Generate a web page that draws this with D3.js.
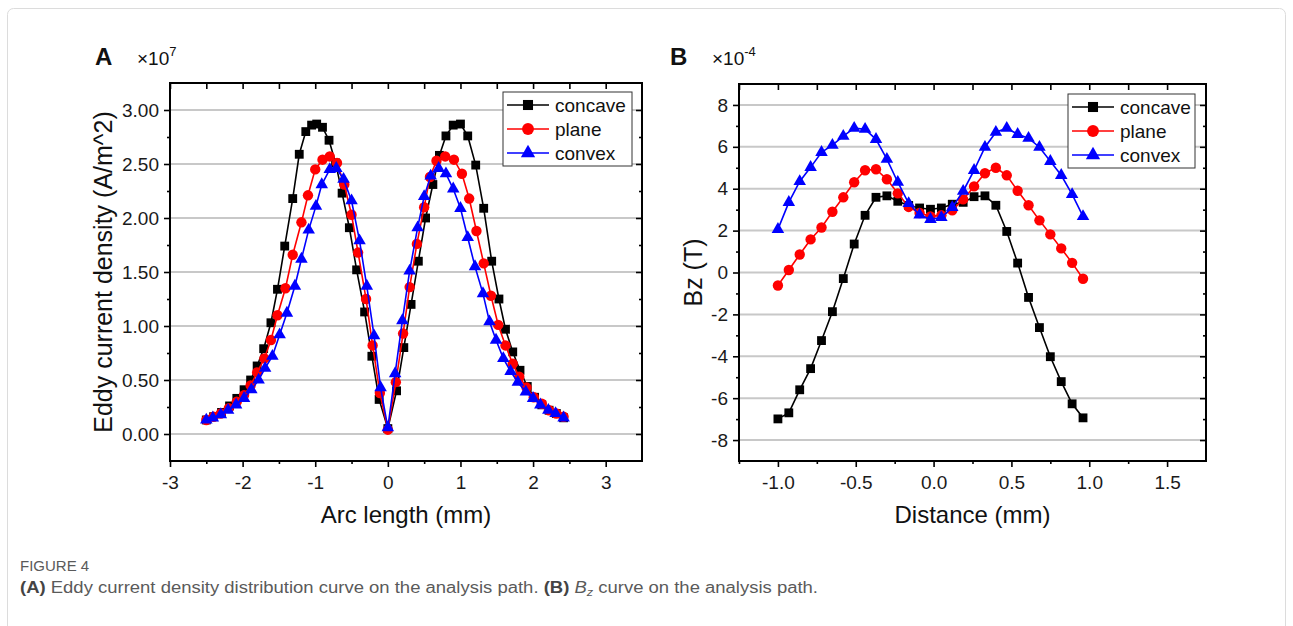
<!DOCTYPE html>
<html><head><meta charset="utf-8">
<script src="https://cdn.jsdelivr.net/npm/d3@7"></script>
<style>
body{margin:0;background:#fff;}
svg{display:block;font-family:"Liberation Sans",Arial,Helvetica,sans-serif;}
</style></head><body>
<svg id="c" width="1293" height="626"></svg>
<script>
// ---------- Panel A data: eddy current density (x1e7 A/m^2) vs arc length (mm)
const seriesNames = ["concave", "plane", "convex"];
const seriesColors = ["#000000", "#ff0000", "#0000ff"];

const arcConcave = [-2.50,-2.40,-2.29,-2.18,-2.08,-1.98,-1.89,-1.80,-1.71,-1.61,-1.52,-1.42,-1.31,-1.22,-1.13,-1.05,-0.98,-0.90,-0.81,-0.72,-0.63,-0.53,-0.43,-0.32,-0.22,-0.12,0.00,0.12,0.22,0.32,0.42,0.52,0.62,0.71,0.80,0.90,1.00,1.10,1.21,1.32,1.43,1.53,1.62,1.72,1.82,1.92,2.02,2.12,2.22,2.32,2.42];
const jConcave   = [0.13,0.16,0.20,0.26,0.33,0.41,0.50,0.63,0.79,1.03,1.34,1.74,2.18,2.59,2.80,2.86,2.87,2.84,2.72,2.51,2.23,1.91,1.52,1.13,0.72,0.32,0.05,0.40,0.80,1.20,1.60,2.00,2.31,2.58,2.76,2.86,2.87,2.76,2.49,2.09,1.60,1.25,0.97,0.76,0.59,0.44,0.34,0.27,0.22,0.19,0.15];

const arcPlane = [-2.50,-2.40,-2.30,-2.19,-2.08,-1.98,-1.89,-1.80,-1.70,-1.61,-1.52,-1.41,-1.31,-1.19,-1.10,-1.00,-0.90,-0.80,-0.70,-0.60,-0.50,-0.41,-0.30,-0.21,-0.11,0.00,0.11,0.21,0.30,0.40,0.50,0.58,0.67,0.79,0.91,1.02,1.12,1.22,1.32,1.42,1.52,1.62,1.72,1.81,1.91,2.01,2.12,2.22,2.32,2.42];
const jPlane   = [0.13,0.16,0.19,0.24,0.30,0.36,0.45,0.57,0.70,0.87,1.10,1.35,1.66,1.96,2.21,2.45,2.54,2.57,2.51,2.31,2.03,1.68,1.25,0.82,0.38,0.04,0.48,0.93,1.36,1.76,2.10,2.38,2.53,2.57,2.54,2.41,2.18,1.88,1.58,1.28,1.01,0.82,0.65,0.53,0.43,0.34,0.28,0.22,0.19,0.16];

const arcConvex = [-2.50,-2.41,-2.30,-2.20,-2.09,-1.98,-1.88,-1.78,-1.69,-1.59,-1.49,-1.39,-1.28,-1.19,-1.09,-0.99,-0.91,-0.80,-0.71,-0.61,-0.50,-0.39,-0.29,-0.19,-0.10,0.00,0.10,0.20,0.30,0.41,0.50,0.59,0.70,0.80,0.90,1.00,1.10,1.20,1.31,1.40,1.49,1.59,1.69,1.79,1.90,2.00,2.10,2.21,2.31,2.42];
const jConvex   = [0.13,0.15,0.18,0.22,0.27,0.33,0.41,0.50,0.61,0.72,0.92,1.12,1.37,1.62,1.89,2.11,2.31,2.45,2.46,2.36,2.16,1.79,1.37,0.91,0.43,0.06,0.56,1.05,1.51,1.91,2.20,2.39,2.46,2.41,2.27,2.09,1.82,1.55,1.30,1.04,0.87,0.70,0.58,0.48,0.39,0.33,0.27,0.22,0.19,0.15];

const arcTicks = [-3,-2,-1,0,1,2,3];
const arcTickLabels = ["-3","-2","-1","0","1","2","3"];
const arcMinorTicks = [-2.5,-1.5,-0.5,0.5,1.5,2.5];
const jTicks = [0,0.5,1,1.5,2,2.5,3];
const jTickLabels = ["0.00","0.50","1.00","1.50","2.00","2.50","3.00"];
const jMinorTicks = [0.25,0.75,1.25,1.75,2.25,2.75];

// ---------- Panel B data: Bz (x1e-4 T) vs distance (mm)
const distance = [-1.00,-0.93,-0.86,-0.79,-0.72,-0.65,-0.58,-0.51,-0.44,-0.37,-0.30,-0.23,-0.16,-0.09,-0.02,0.05,0.12,0.19,0.26,0.33,0.40,0.47,0.54,0.61,0.68,0.75,0.82,0.89,0.96];
const bzConcave = [-6.99,-6.70,-5.60,-4.59,-3.25,-1.87,-0.29,1.36,2.73,3.59,3.66,3.40,3.20,3.08,3.02,3.08,3.26,3.35,3.62,3.66,3.21,1.96,0.45,-1.19,-2.63,-4.02,-5.21,-6.27,-6.94];
const bzPlane   = [-0.62,0.12,0.86,1.58,2.15,2.90,3.59,4.31,4.88,4.93,4.45,3.78,3.13,2.84,2.68,2.73,2.97,3.49,4.11,4.74,5.00,4.64,3.90,3.21,2.49,1.82,1.15,0.46,-0.30];
const bzConvex  = [2.06,3.35,4.35,5.02,5.74,6.08,6.51,6.89,6.84,6.36,5.41,4.31,3.30,2.75,2.54,2.63,3.11,3.88,4.88,5.98,6.70,6.89,6.60,6.41,5.98,5.31,4.64,3.73,2.68];

const distTicks = [-1.0,-0.5,0.0,0.5,1.0,1.5];
const distTickLabels = ["-1.0","-0.5","0.0","0.5","1.0","1.5"];
const distMinorTicks = [-1.25,-0.75,-0.25,0.25,0.75,1.25];
const bzTicks = [-8,-6,-4,-2,0,2,4,6,8];
const bzTickLabels = ["-8","-6","-4","-2","0","2","4","6","8"];
const bzMinorTicks = [-7,-5,-3,-1,1,3,5,7];

// ---------- drawing
const svg = d3.select("#c");
svg.append("rect").attr("x",7.5).attr("y",8.5).attr("width",1278).attr("height",700)
  .attr("rx",6).attr("fill","none").attr("stroke","#dcdcdc").attr("stroke-width",1);

const symbols = [d3.symbolSquare, d3.symbolCircle, d3.symbolTriangle];
const symSizes = [78, 85, 68];

function styleAxis(sel){
  sel.select(".domain").remove();
  sel.selectAll(".tick line").attr("stroke","#000").attr("stroke-width",1.6);
  sel.selectAll(".tick text").attr("fill","#1a1a1a").attr("font-size",19)
     .attr("font-family","'Liberation Sans',Arial,sans-serif");
}

function panel(o){
  const g = svg.append("g");
  const x = d3.scaleLinear().domain(o.xDomain).range([o.left,o.right]);
  const y = d3.scaleLinear().domain(o.yDomain).range([o.bottom,o.top]);

  // grid
  g.append("g").selectAll("line").data(o.yTicks).join("line")
    .attr("x1",o.left).attr("x2",o.right)
    .attr("y1",d=>y(d)).attr("y2",d=>y(d))
    .attr("stroke","#c8c8c8").attr("stroke-width",2);

  const fmtX = d => o.xLabels[o.xTicks.indexOf(d)];
  const fmtY = d => o.yLabels[o.yTicks.indexOf(d)];

  // bottom
  g.append("g").attr("transform",`translate(0,${o.bottom})`)
    .call(d3.axisBottom(x).tickValues(o.xTicks).tickFormat(fmtX).tickSize(6).tickSizeOuter(0).tickPadding(9)).call(styleAxis);
  g.append("g").attr("transform",`translate(0,${o.bottom})`)
    .call(d3.axisBottom(x).tickValues(o.xMinor).tickFormat("").tickSize(3).tickSizeOuter(0)).call(styleAxis);
  // top (inward)
  g.append("g").attr("transform",`translate(0,${o.top})`)
    .call(d3.axisTop(x).tickValues(o.xTicks.concat(o.xMinor)).tickFormat("").tickSize(-6).tickSizeOuter(0)).call(styleAxis);
  // left
  g.append("g").attr("transform",`translate(${o.left},0)`)
    .call(d3.axisLeft(y).tickValues(o.yTicks).tickFormat(fmtY).tickSize(6).tickSizeOuter(0).tickPadding(5)).call(styleAxis);
  g.append("g").attr("transform",`translate(${o.left},0)`)
    .call(d3.axisLeft(y).tickValues(o.yMinor).tickFormat("").tickSize(3).tickSizeOuter(0)).call(styleAxis);
  // right (inward)
  g.append("g").attr("transform",`translate(${o.right},0)`)
    .call(d3.axisRight(y).tickValues(o.yTicks).tickFormat("").tickSize(-6).tickSizeOuter(0)).call(styleAxis);
  g.append("g").attr("transform",`translate(${o.right},0)`)
    .call(d3.axisRight(y).tickValues(o.yMinor).tickFormat("").tickSize(-3).tickSizeOuter(0)).call(styleAxis);

  // frame
  g.append("rect").attr("x",o.left).attr("y",o.top).attr("width",o.right-o.left).attr("height",o.bottom-o.top)
    .attr("fill","none").attr("stroke","#000").attr("stroke-width",2);

  // series
  o.series.forEach((s,i)=>{
    const pts = s.xs.map((xv,k)=>[xv,s.ys[k]]);
    const line = d3.line().x(d=>x(d[0])).y(d=>y(d[1]));
    g.append("path").attr("d",line(pts)).attr("fill","none").attr("stroke",seriesColors[i]).attr("stroke-width",1.6);
    g.append("g").selectAll("path").data(pts).join("path")
      .attr("d",d3.symbol().type(symbols[i]).size(symSizes[i]))
      .attr("transform",d=>`translate(${x(d[0])},${y(d[1])})`)
      .attr("fill",seriesColors[i]);
  });

  // legend
  const L = o.legend;
  g.append("rect").attr("x",L.x).attr("y",L.y).attr("width",L.w).attr("height",L.h)
    .attr("fill","#fff").attr("stroke","#333").attr("stroke-width",1);
  seriesNames.forEach((nm,i)=>{
    const cy = L.y + 13 + i*24;
    g.append("line").attr("x1",L.x+4).attr("x2",L.x+46).attr("y1",cy).attr("y2",cy)
      .attr("stroke",seriesColors[i]).attr("stroke-width",1.6);
    g.append("path").attr("d",d3.symbol().type(symbols[i]).size(symSizes[i]*1.3)())
      .attr("transform",`translate(${L.x+25},${cy})`).attr("fill",seriesColors[i]);
    g.append("text").attr("x",L.x+52).attr("y",cy+6.5).attr("font-size",19).attr("fill","#111").text(nm);
  });

  // titles
  g.append("text").attr("x",(o.left+o.right)/2).attr("y",523).attr("text-anchor","middle")
    .attr("font-size",24).attr("fill","#111").text(o.xTitle);
  g.append("text").attr("transform",`translate(${o.yTitleX},${(o.top+o.bottom)/2}) rotate(-90)`)
    .attr("text-anchor","middle").attr("font-size",25).attr("fill","#111").text(o.yTitle);

  // panel letter and multiplier
  g.append("text").attr("x",o.letterX).attr("y",65).attr("font-size",24).attr("font-weight","bold").attr("fill","#111").text(o.letter);
  const m = g.append("text").attr("x",o.letterX+42).attr("y",65).attr("font-size",19).attr("fill","#111");
  m.append("tspan").text("\u00d710");
  m.append("tspan").attr("dy",-9).attr("font-size",13).text(o.exponent);
}

panel({
  left:170, right:642, top:83, bottom:461,
  xDomain:[-3,3.5], yDomain:[-0.25,3.25],
  xTicks:arcTicks, xLabels:arcTickLabels, xMinor:arcMinorTicks,
  yTicks:jTicks, yLabels:jTickLabels, yMinor:jMinorTicks,
  series:[{xs:arcConcave,ys:jConcave},{xs:arcPlane,ys:jPlane},{xs:arcConvex,ys:jConvex}],
  legend:{x:503,y:92,w:129,h:74},
  xTitle:"Arc length (mm)", yTitle:"Eddy current density (A/m^2)", yTitleX:112,
  letter:"A", letterX:95, exponent:"7"
});

panel({
  left:739, right:1206, top:84, bottom:461,
  xDomain:[-1.25,1.75], yDomain:[-9,9],
  xTicks:distTicks, xLabels:distTickLabels, xMinor:distMinorTicks,
  yTicks:bzTicks, yLabels:bzTickLabels, yMinor:bzMinorTicks,
  series:[{xs:distance,ys:bzConcave},{xs:distance,ys:bzPlane},{xs:distance,ys:bzConvex}],
  legend:{x:1068,y:94,w:127,h:74},
  xTitle:"Distance (mm)", yTitle:"Bz (T)", yTitleX:702,
  letter:"B", letterX:670, exponent:"-4"
});

// caption
svg.append("text").attr("x",20).attr("y",571).attr("font-size",15).attr("fill","#5a5a5a")
  .text("FIGURE 4");
const cap = svg.append("text").attr("x",20).attr("y",593).attr("font-size",16).attr("fill","#5a5a5a")
  .attr("textLength",798).attr("lengthAdjust","spacingAndGlyphs");
cap.append("tspan").attr("font-weight","bold").attr("fill","#444").text("(A)");
cap.append("tspan").text(" Eddy current density distribution curve on the analysis path. ");
cap.append("tspan").attr("font-weight","bold").attr("fill","#444").text("(B)");
cap.append("tspan").text(" ");
cap.append("tspan").attr("font-style","italic").text("B");
cap.append("tspan").attr("font-style","italic").attr("font-size",11).attr("dy",3).text("z");
cap.append("tspan").attr("dy",-3).text(" curve on the analysis path.");
</script>
</body></html>
